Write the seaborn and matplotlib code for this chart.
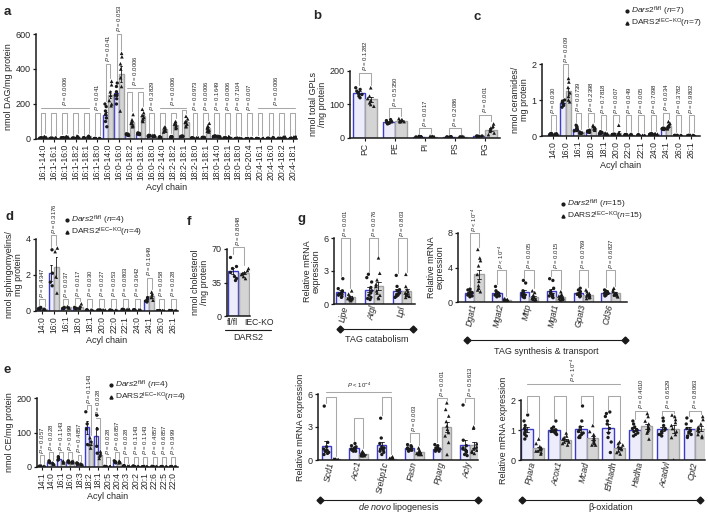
import numpy as np
import pandas as pd
import matplotlib
matplotlib.use('Agg')
import matplotlib.pyplot as plt
import seaborn as sns

sns.set_theme(style='ticks')
plt.rcParams['font.family'] = ['Liberation Sans', 'DejaVu Sans']
plt.rcParams['mathtext.fontset'] = 'custom'
plt.rcParams['mathtext.rm'] = 'Liberation Sans'
plt.rcParams['mathtext.it'] = 'Liberation Sans:italic'
plt.rcParams['mathtext.bf'] = 'Liberation Sans:bold'

GENO = ['fl/fl', 'IEC-KO']

# ---------------- a: DAG ----------------
a_cats = ['16:1-14:0', '16:1-16:1', '16:1-16:0', '16:1-18:2', '16:1-18:1', '16:1-18:0',
          '16:0-14:0', '16:0-16:0', '16:0-18:2', '16:0-18:1', '16:0-18:0', '18:2-14:0',
          '18:2-18:2', '18:2-18:1', '18:2-18:0', '18:1-18:1', '18:0-14:0', '18:0-18:1',
          '18:0-18:0', '18:0-20:4', '20:4-16:1', '20:4-16:0', '20:4-18:2', '20:4-18:1']
a_fl = [[4, 6, 5, 3, 7, 5, 4], [3, 4, 2, 3, 5, 4, 3], [5, 8, 6, 4, 7, 6, 5], [3, 4, 5, 3, 4, 5, 4],
        [4, 6, 5, 5, 7, 4, 6], [2, 3, 2, 3, 2, 3, 2], [185, 160, 140, 120, 100, 70, 200],
        [320, 300, 270, 250, 230, 200, 250], [30, 25, 22, 28, 20, 24, 26], [35, 30, 28, 25, 32, 27, 33],
        [20, 18, 15, 22, 17, 19, 16], [10, 12, 8, 9, 11, 10, 9], [12, 14, 10, 11, 13, 12, 12],
        [15, 14, 16, 13, 17, 15, 14], [5, 4, 6, 5, 4, 6, 5], [8, 7, 9, 8, 10, 7, 9],
        [16, 14, 15, 17, 13, 15, 16], [5, 6, 4, 5, 6, 5, 4], [3, 2, 4, 3, 2, 3, 4],
        [2, 2, 3, 2, 1, 2, 3], [2, 3, 2, 1, 2, 3, 2], [3, 4, 2, 3, 4, 3, 2], [3, 2, 4, 3, 3, 2, 4],
        [3, 4, 3, 2, 3, 4, 3]]
a_ko = [[8, 12, 10, 14, 9, 11, 10], [4, 6, 5, 7, 5, 6, 4], [10, 14, 12, 9, 13, 11, 12],
        [12, 16, 14, 10, 15, 13, 14], [12, 18, 15, 13, 16, 14, 12], [3, 4, 3, 2, 4, 3, 3],
        [330, 310, 270, 250, 220, 200, 190], [490, 470, 430, 400, 350, 300, 160],
        [140, 110, 100, 90, 80, 75, 70], [170, 150, 135, 125, 115, 105, 100],
        [20, 18, 22, 16, 19, 17, 21], [70, 65, 60, 55, 50, 45, 40], [100, 95, 85, 80, 70, 65, 60],
        [130, 115, 100, 95, 85, 75, 70], [6, 5, 7, 4, 6, 5, 6], [90, 75, 65, 60, 50, 45, 40],
        [16, 14, 15, 17, 13, 15, 16], [10, 12, 9, 11, 10, 8, 12], [3, 4, 2, 3, 4, 3, 2],
        [2, 3, 2, 1, 2, 3, 2], [3, 4, 3, 2, 3, 4, 3], [8, 10, 7, 9, 8, 7, 9],
        [10, 12, 9, 11, 10, 8, 12], [10, 13, 9, 11, 10, 9, 12]]
a_br = [150, 150, 150, 150, 150, 150, 430, 600, 270, 270, 150, 150, 150, 165, 150, 150,
        150, 150, 150, 150, 150, 150, 150, 150]
a_p = ['', '', '', '', '', '0.041', '0.041', '0.053', '', '', '0.3829', '', '', '',
       '0.0973', '0.0006', '0.1649', '0.0006', '0.7104', '0.007', '', '', '', '']
a_groups = [(0, 4, 178, '0.0006'), (8, 9, 294, '0.0006'), (11, 13, 178, '0.0006'), (20, 23, 178, '0.0006')]

# ---------------- b: GPLs ----------------
b_cats = ['PC', 'PE', 'PI', 'PS', 'PG']
b_fl = [[150, 145, 140, 135, 130, 125, 120], [55, 52, 50, 48, 46, 44, 42], [4, 3, 5, 3, 4, 2, 3],
        [3, 4, 2, 3, 4, 3, 2], [6, 5, 4, 6, 5, 4, 5]]
b_ko = [[150, 125, 118, 112, 105, 100, 95], [58, 55, 53, 51, 50, 49, 48], [5, 4, 6, 4, 5, 3, 4],
        [4, 5, 3, 4, 5, 4, 3], [42, 35, 30, 25, 20, 15, 10]]
b_br = [195, 90, 30, 30, 70]
b_p = ['0.1282', '0.5350', '0.017', '0.2086', '0.001']

# ---------------- c: ceramides ----------------
c_cats = ['14:0', '16:0', '16:1', '18:0', '18:1', '20:0', '22:0', '22:1', '24:0', '24:1', '26:0', '26:1']
c_fl = [[0.05, 0.06, 0.04, 0.05, 0.07, 0.05, 0.04], [1.0, 0.97, 0.93, 0.9, 0.87, 0.85, 0.8],
        [0.3, 0.26, 0.22, 0.2, 0.17, 0.15, 0.14], [0.16, 0.14, 0.12, 0.11, 0.1, 0.13, 0.12],
        [0.12, 0.1, 0.08, 0.07, 0.06, 0.08, 0.07], [0.05, 0.04, 0.03, 0.05, 0.04, 0.03, 0.04],
        [0.03, 0.04, 0.03, 0.02, 0.03, 0.04, 0.03], [0.02, 0.03, 0.02, 0.01, 0.02, 0.03, 0.02],
        [0.05, 0.06, 0.04, 0.05, 0.06, 0.05, 0.04], [0.22, 0.2, 0.19, 0.21, 0.2, 0.18, 0.2],
        [0.01, 0.01, 0.02, 0.01, 0.01, 0.02, 0.01], [0.01, 0.02, 0.01, 0.01, 0.02, 0.01, 0.01]]
c_ko = [[0.06, 0.07, 0.05, 0.06, 0.08, 0.06, 0.05], [1.6, 1.5, 1.35, 1.2, 1.1, 1.0, 0.95],
        [0.12, 0.1, 0.09, 0.11, 0.1, 0.08, 0.1], [0.3, 0.27, 0.24, 0.22, 0.2, 0.18, 0.16],
        [0.08, 0.06, 0.05, 0.06, 0.07, 0.05, 0.06], [0.3, 0.08, 0.06, 0.05, 0.07, 0.06, 0.05],
        [0.04, 0.05, 0.04, 0.03, 0.04, 0.05, 0.04], [0.01, 0.02, 0.01, 0.01, 0.02, 0.01, 0.01],
        [0.05, 0.06, 0.04, 0.05, 0.06, 0.05, 0.04], [0.4, 0.35, 0.3, 0.27, 0.25, 0.22, 0.2],
        [0.01, 0.02, 0.01, 0.01, 0.02, 0.01, 0.01], [0.01, 0.02, 0.01, 0.01, 0.02, 0.01, 0.01]]
c_br = [0.58, 2.0, 0.63, 0.63, 0.58, 0.58, 0.58, 0.58, 0.58, 0.65, 0.58, 0.58]
c_p = ['0.030', '0.009', '0.0739', '0.2398', '0.7818', '0.007', '0.049', '0.005', '0.7098',
       '0.034', '0.3782', '0.9802']

# ---------------- d: sphingomyelins ----------------
d_cats = c_cats
d_fl = [[0.2, 0.15, 0.12, 0.1], [3.4, 2.1, 1.6, 1.4], [0.2, 0.15, 0.12, 0.13], [0.2, 0.15, 0.12, 0.13],
        [0.06, 0.05, 0.04, 0.05], [0.06, 0.05, 0.04, 0.05], [0.05, 0.04, 0.03, 0.04], [0.1, 0.08, 0.07, 0.08],
        [0.07, 0.06, 0.05, 0.06], [0.75, 0.65, 0.55, 0.5], [0.03, 0.02, 0.02, 0.02], [0.03, 0.02, 0.02, 0.02]]
d_ko = [[0.12, 0.1, 0.08, 0.1], [3.5, 3.3, 1.9, 1.0], [0.25, 0.2, 0.18, 0.17], [0.4, 0.25, 0.2, 0.15],
        [0.06, 0.05, 0.04, 0.05], [0.06, 0.05, 0.04, 0.05], [0.04, 0.03, 0.03, 0.03], [0.1, 0.08, 0.07, 0.08],
        [0.07, 0.06, 0.05, 0.06], [1.05, 0.9, 0.75, 0.6], [0.03, 0.02, 0.02, 0.02], [0.03, 0.02, 0.02, 0.02]]
d_br = [0.65, 4.2, 0.65, 0.72, 0.68, 0.68, 0.68, 0.68, 0.68, 1.85, 0.68, 0.68]
d_p = ['0.4347', '0.3176', '0.037', '0.017', '0.030', '0.027', '0.053', '0.0803', '0.3642',
       '0.1649', '0.058', '0.028']

# ---------------- e: CE ----------------
e_cats = ['14:1', '14:0', '16:1', '16:0', '18:3', '18:2', '18:1', '20:5', '20:4', '20:3', '20:2',
          '20:1', '22:6', '22:5', '22:0']
e_fl = [[3, 2, 2, 1], [18, 16, 14, 12], [30, 26, 22, 20], [18, 16, 14, 12], [12, 10, 9, 8],
        [160, 125, 110, 65], [150, 110, 60, 40], [1, 1, 2, 1], [18, 16, 14, 12], [4, 3, 3, 2],
        [3, 2, 2, 1], [1, 1, 2, 1], [1, 1, 2, 1], [1, 1, 2, 1], [1, 1, 2, 1]]
e_ko = [[2, 1, 1, 1], [12, 10, 9, 8], [18, 15, 13, 12], [18, 16, 14, 12], [10, 8, 7, 7],
        [85, 75, 65, 55], [45, 38, 32, 25], [1, 1, 2, 1], [18, 16, 14, 12], [3, 2, 2, 2],
        [2, 2, 2, 1], [1, 1, 2, 1], [1, 1, 2, 1], [1, 1, 2, 1], [1, 1, 2, 1]]
e_br = [34, 43, 43, 43, 36, 180, 143, 30, 43, 30, 30, 30, 30, 30, 30]
e_p = ['0.057', '0.028', '0.1143', '> 0.999', '0.4857', '0.1143', '0.028', '0.028', '0.6857',
       '0.028', '0.1143', '0.1143', '0.4857', '0.6857', '> 0.999']

# ---------------- f: cholesterol ----------------
f_labels = ['fl/fl', 'IEC-KO']
f_fl = [62, 52, 50, 46, 42, 40, 38]
f_ko = [50, 48, 46, 45, 44, 42, 40]
f_p = '0.8048'

# ---------------- g: gene expression ----------------
gc_cats = ['Lipe', 'Atgl', 'Lpl']
gc_fl = [[2.3, 1.4, 1.2, 1.1, 1.0, 0.9, 0.8, 0.7, 0.6, 0.9],
         [2.7, 2.4, 2.0, 1.5, 1.2, 1.0, 0.8, 0.6, 0.5, 0.4],
         [2.6, 1.6, 1.3, 1.2, 1.0, 0.9, 0.8, 0.7, 0.6, 0.8]]
gc_ko = [[1.2, 0.9, 0.7, 0.6, 0.5, 0.5, 0.4, 0.4, 0.3, 0.5],
         [4.2, 2.8, 2.2, 1.8, 1.6, 1.2, 1.0, 0.8, 0.6, 0.5],
         [2.7, 1.6, 1.3, 1.1, 1.0, 0.9, 0.8, 0.7, 0.6, 0.8]]
gc_br = [6.0, 6.0, 6.0]
gc_p = ['0.001', '0.076', '0.803']

gs_cats = ['Dgat1', 'Mgat2', 'Mttp', 'Mgat1', 'Gpat3', 'Cd36']
gs_fl = [[1.5, 1.4, 1.2, 1.1, 1.0, 0.9, 0.8, 0.8, 0.7, 0.6],
         [1.8, 1.3, 1.1, 1.0, 1.0, 0.9, 0.9, 0.8, 0.7, 0.6],
         [2.5, 2.2, 1.3, 1.0, 0.9, 0.8, 0.8, 0.7, 0.6, 0.5],
         [2.7, 2.5, 1.6, 1.2, 1.0, 0.9, 0.8, 0.7, 0.6, 0.5],
         [1.6, 1.4, 1.2, 1.0, 0.9, 0.9, 0.8, 0.8, 0.7, 0.6],
         [1.4, 1.3, 1.2, 1.1, 1.0, 1.0, 0.9, 0.8, 0.8, 0.7]]
gs_ko = [[6.1, 5.1, 4.8, 4.2, 3.2, 2.4, 1.9, 1.6, 1.4, 1.2],
         [0.4, 0.3, 0.3, 0.2, 0.2, 0.2, 0.2, 0.1, 0.1, 0.1],
         [1.3, 1.1, 0.8, 0.6, 0.5, 0.5, 0.4, 0.3, 0.3, 0.2],
         [1.2, 0.9, 0.7, 0.6, 0.5, 0.4, 0.4, 0.3, 0.3, 0.2],
         [1.4, 1.2, 1.0, 0.9, 0.8, 0.7, 0.6, 0.6, 0.5, 0.4],
         [1.6, 1.4, 1.2, 1.0, 1.0, 0.9, 0.9, 0.8, 0.7, 0.6]]
gs_br = [8.0, 3.7, 3.7, 3.7, 3.7, 3.7]
gs_p = ['< 10^{-4}', '< 10^{-4}', '0.005', '0.015', '0.0769', '0.6827']

gd_cats = ['Scd1', 'Acc1', 'Srebp1c', 'Fasn', 'Pparg', 'Acly']
gd_fl = [[4.9, 1.6, 1.2, 1.0, 0.9, 0.8, 0.8, 0.7, 0.6, 0.5],
         [1.5, 1.3, 1.2, 1.1, 1.0, 1.0, 0.9, 0.9, 0.8, 0.8],
         [3.8, 2.0, 1.5, 1.2, 1.1, 1.0, 0.9, 0.8, 0.7, 0.5],
         [1.4, 1.3, 1.2, 1.1, 1.0, 1.0, 0.9, 0.9, 0.9, 0.8],
         [1.4, 1.3, 1.1, 1.1, 1.0, 1.0, 0.9, 0.9, 0.8, 0.8],
         [5.0, 1.8, 1.3, 1.1, 1.0, 0.9, 0.8, 0.7, 0.5, 0.4]]
gd_ko = [[0.1, 0.08, 0.06, 0.05, 0.05, 0.04, 0.04, 0.03, 0.03, 0.02],
         [0.8, 0.7, 0.6, 0.6, 0.5, 0.5, 0.5, 0.4, 0.4, 0.4],
         [0.3, 0.2, 0.15, 0.1, 0.1, 0.08, 0.07, 0.05, 0.05, 0.04],
         [1.1, 0.9, 0.8, 0.7, 0.7, 0.6, 0.6, 0.6, 0.5, 0.5],
         [5.2, 4.6, 4.0, 3.5, 3.1, 2.8, 2.5, 2.2, 1.6, 0.5],
         [3.0, 2.9, 1.5, 1.2, 1.1, 1.0, 0.9, 0.8, 0.7, 0.6]]
gd_br = [5.75, 3.8, 5.75, 2.45, 5.6, 5.6]
gd_p = ['', '', '', '0.003', '0.001', '0.5613']
gd_groups = [(0, 2, 6.2, '< 10^{-4}')]

gb_cats = ['Ppara', 'Acox1', 'Mcad', 'Ehhadh', 'Hadha', 'Acadvl', 'Cpt2']
gb_fl = [[1.5, 1.3, 1.15, 1.05, 1.0, 0.95, 0.9, 0.85, 0.8, 0.7],
         [1.3, 1.1, 1.05, 1.0, 1.0, 0.95, 0.95, 0.9, 0.9, 0.85],
         [1.8, 1.3, 1.1, 1.0, 0.95, 0.9, 0.85, 0.8, 0.75, 0.75],
         [1.6, 1.55, 1.45, 1.3, 1.2, 1.05, 0.9, 0.75, 0.6, 0.25],
         [1.3, 1.2, 1.1, 1.05, 1.0, 1.0, 0.95, 0.9, 0.85, 0.8],
         [1.4, 1.3, 1.15, 1.05, 1.0, 0.95, 0.9, 0.85, 0.8, 0.85],
         [1.4, 1.3, 1.2, 1.05, 1.0, 0.95, 0.9, 0.85, 0.8, 0.75]]
gb_ko = [[0.7, 0.55, 0.45, 0.4, 0.35, 0.35, 0.3, 0.3, 0.25, 0.2],
         [0.9, 0.8, 0.75, 0.7, 0.7, 0.65, 0.6, 0.6, 0.55, 0.5],
         [1.15, 0.95, 0.85, 0.75, 0.7, 0.65, 0.6, 0.55, 0.5, 0.5],
         [0.6, 0.55, 0.5, 0.45, 0.4, 0.4, 0.35, 0.3, 0.25, 0.2],
         [1.55, 1.45, 1.3, 1.2, 1.1, 1.05, 1.0, 0.95, 0.9, 0.7],
         [1.5, 1.45, 1.35, 1.25, 1.15, 1.05, 0.95, 0.85, 0.75, 0.0],
         [1.45, 1.35, 1.2, 1.1, 1.05, 1.0, 0.95, 0.85, 0.8, 0.75]]
gb_br = [2.15, 2.15, 2.15, 2.15, 1.65, 1.65, 1.65]
gb_p = ['', '', '', '', '0.4610', '0.6529', '0.8063']
gb_groups = [(0, 3, 2.55, '< 10^{-4}')]

# ================= drawing =================
W, H = 708, 514
fig = plt.figure(figsize=(W / 100, H / 100), dpi=100)
fig.patch.set_facecolor('white')
np.random.seed(7)

FL_FACE, FL_EDGE = '#ececfa', '#3b3bcc'
KO_FACE, KO_EDGE = '#d4d4d4', '#a4a4a4'
BR = '#a8a8a8'
PFS = 4.3
FS = 6.5


def add_ax(x0, yt, x1, yb):
    return fig.add_axes([x0 / W, 1 - yb / H, (x1 - x0) / W, (yb - yt) / H])


def ptxt(p):
    if p.startswith('<'):
        return r'$\it{P}$ < 10$^{-4}$'
    if p.startswith('>'):
        return r'$\it{P}$ > ' + p[1:].strip()
    return r'$\it{P}$ = ' + p


def long_df(cats, fl, ko):
    rows = []
    for c, a, b in zip(cats, fl, ko):
        rows += [(c, GENO[0], v) for v in a]
        rows += [(c, GENO[1], v) for v in b]
    return pd.DataFrame(rows, columns=['cat', 'geno', 'val'])


def style(ax, ylim, yticks, xlim, gene=False):
    ax.set_ylim(*ylim)
    ax.set_yticks(yticks)
    ax.set_xlim(*xlim)
    sns.despine(ax=ax)
    for s in ['left', 'bottom']:
        ax.spines[s].set_linewidth(1.1)
        ax.spines[s].set_color('k')
    ax.tick_params(axis='y', length=2.5, width=0.9, labelsize=FS, pad=1.5, color='k')
    ax.tick_params(axis='x', length=0 if gene else 2, width=0.8, labelsize=6.2, pad=1.5, color='k')
    ax.set_facecolor('none')


def draw(rect, cats, fl, ko, ylim, yticks, xlim, width, ylabel, xlabel=None, gene=False):
    ax = add_ax(*rect)
    df = long_df(cats, fl, ko)
    sns.barplot(data=df, x='cat', y='val', hue='geno', order=cats, hue_order=GENO,
                palette=[FL_FACE, KO_FACE], saturation=1, errorbar='se', capsize=0.3,
                err_kws={'linewidth': 0.6, 'color': 'k'}, width=width, linewidth=1.0,
                legend=False, ax=ax)
    for p in ax.containers[0]:
        p.set_edgecolor(FL_EDGE)
    for p in ax.containers[1]:
        p.set_edgecolor(KO_EDGE)
    n0 = len(ax.collections)
    for g, m, s in [(GENO[0], 'o', 2.4), (GENO[1], '^', 2.6)]:
        sns.stripplot(data=df[df.geno == g], x='cat', y='val', hue='geno', order=cats,
                      hue_order=GENO, palette=['k', 'k'], dodge=True, jitter=0.22, size=s,
                      marker=m, linewidth=0, legend=False, ax=ax, zorder=4)
    for coll in ax.collections[n0:]:
        off = np.asarray(coll.get_offsets()).copy()
        if len(off):
            c = np.round(off[:, 0])
            off[:, 0] = c + (off[:, 0] - c) * width / 0.8
            coll.set_offsets(off)
    style(ax, ylim, yticks, xlim, gene)
    if gene:
        ax.set_xticks(range(len(cats)), cats, rotation=78, ha='right', va='center',
                      rotation_mode='anchor', fontstyle='italic')
    else:
        ax.set_xticks(range(len(cats)), cats, rotation=90)
    ax.set_ylabel(ylabel, fontsize=FS, labelpad=2, linespacing=1.0)
    ax.set_xlabel(xlabel if xlabel else '', fontsize=FS, labelpad=2)
    return ax


def brackets(ax, fl, ko, hs, ps, width, pad):
    d = width / 4
    for i, (a, b, h, p) in enumerate(zip(fl, ko, hs, ps)):
        ya = min(max(a) + pad, h)
        yb = min(max(b) + pad, h)
        ax.plot([i - d, i - d, i + d, i + d], [ya, h, h, yb], color=BR, lw=0.75,
                clip_on=False, zorder=5)
        if p:
            ax.text(i, h + pad * 0.5, ptxt(p), rotation=90, ha='center', va='bottom',
                    fontsize=PFS, clip_on=False)


def groups(ax, grp, width, pad, vertical=True):
    d = width / 4
    for i0, i1, h, p in grp:
        ax.plot([i0 - d, i1 + d], [h, h], color=BR, lw=0.75, clip_on=False, zorder=5)
        ax.text((i0 + i1) / 2, h + pad * 0.5, ptxt(p), rotation=90 if vertical else 0,
                ha='center', va='bottom', fontsize=PFS, clip_on=False)


# a
ax = draw((36, 34, 297, 139), a_cats, a_fl, a_ko, (0, 600), [0, 200, 400, 600], (-0.64, 23.4),
          0.85, 'nmol DAG/mg protein', 'Acyl chain')
brackets(ax, a_fl, a_ko, a_br, a_p, 0.85, 18)
groups(ax, a_groups, 0.85, 18)

# b
ax = draw((350, 71, 500, 138), b_cats, b_fl, b_ko, (0, 200), [0, 100, 200], (-0.5, 4.5),
          0.8, 'nmol total GPLs\n/mg protein')
brackets(ax, b_fl, b_ko, b_br, b_p, 0.8, 8)

# c
ax = draw((542, 64, 700, 136), c_cats, c_fl, c_ko, (0, 2), [0, 1, 2], (-0.9, 11.7),
          0.85, 'nmol ceramides/\nmg protein', 'Acyl chain')
brackets(ax, c_fl, c_ko, c_br, c_p, 0.85, 0.08)

# d
ax = draw((36, 239, 178, 311), d_cats, d_fl, d_ko, (0, 4), [0, 2, 4], (-0.5, 11.4),
          0.85, 'nmol sphingomyelins/\nmg protein', 'Acyl chain')
brackets(ax, d_fl, d_ko, d_br, d_p, 0.85, 0.15)

# e
ax = draw((37, 398, 178, 467), e_cats, e_fl, e_ko, (0, 200), [0, 100, 200], (-0.53, 14.5),
          0.85, 'nmol CE/mg protein', 'Acyl chain')
brackets(ax, e_fl, e_ko, e_br, e_p, 0.85, 8)

# f
ax = add_ax(227, 249, 250, 316)
fdf = pd.DataFrame({'geno': [GENO[0]] * len(f_fl) + [GENO[1]] * len(f_ko), 'val': f_fl + f_ko})
sns.barplot(data=fdf, x='geno', y='val', hue='geno', order=GENO, hue_order=GENO,
            palette=[FL_FACE, KO_FACE], saturation=1, errorbar='se', capsize=0.3,
            err_kws={'linewidth': 0.6, 'color': 'k'}, width=0.9, linewidth=1.0, legend=False, ax=ax)
ax.containers[0][0].set_edgecolor(FL_EDGE)
ax.containers[1][0].set_edgecolor(KO_EDGE)
for g, m, s in [(GENO[0], 'o', 2.4), (GENO[1], '^', 2.6)]:
    sns.stripplot(data=fdf[fdf.geno == g], x='geno', y='val', order=GENO, color='k',
                  jitter=0.3, size=s, marker=m, linewidth=0, ax=ax, zorder=4)
style(ax, (0, 70), [0, 35, 70], (-0.5, 1.5), gene=True)
ax.set_xticks([0, 1], f_labels)
labs = ax.get_xticklabels()
labs[1].set_horizontalalignment('left')
ax.set_ylabel('nmol cholesterol\n/mg protein', fontsize=FS, labelpad=2, linespacing=1.0)
ax.set_xlabel('')
ax.plot([0, 0, 1, 1], [max(f_fl) + 3, 72, 72, max(f_ko) + 3], color=BR, lw=0.75, clip_on=False)
ax.text(0.5, 73.5, ptxt(f_p), rotation=90, ha='center', va='bottom', fontsize=PFS, clip_on=False)

# g panels
ax = draw((334, 238, 415, 304), gc_cats, gc_fl, gc_ko, (0, 6), [0, 3, 6], (-0.4, 2.45),
          0.65, 'Relative mRNA\nexpression', gene=True)
brackets(ax, gc_fl, gc_ko, gc_br, gc_p, 0.65, 0.25)

ax = draw((458, 233, 627, 302), gs_cats, gs_fl, gs_ko, (0, 8), [0, 4, 8], (-0.6, 5.6),
          0.68, 'Relative mRNA\nexpression', gene=True)
brackets(ax, gs_fl, gs_ko, gs_br, gs_p, 0.68, 0.3)

ax = draw((318, 394, 478, 460), gd_cats, gd_fl, gd_ko, (0, 6), [0, 3, 6], (-0.47, 5.3),
          0.68, 'Relative mRNA expression', gene=True)
brackets(ax, gd_fl, gd_ko, gd_br, gd_p, 0.68, 0.25)
groups(ax, gd_groups, 0.68, 0.25, vertical=False)

ax = draw((521, 400, 705, 460), gb_cats, gb_fl, gb_ko, (0, 2), [0, 1, 2], (-0.44, 6.37),
          0.85, 'Relative mRNA expression', gene=True)
brackets(ax, gb_fl, gb_ko, gb_br, gb_p, 0.85, 0.08)
groups(ax, gb_groups, 0.85, 0.08, vertical=True)

# ---------------- overlay (letters, legends, pathway lines) ----------------
ov = fig.add_axes([0, 0, 1, 1], zorder=10)
ov.set_xlim(0, W)
ov.set_ylim(H, 0)
ov.axis('off')
ov.patch.set_visible(False)

for L, x, y in [('a', 4, 12), ('b', 313, 16), ('c', 473, 17), ('d', 5, 217),
                ('f', 187, 222), ('g', 297, 219), ('e', 4, 370)]:
    ov.text(x, y, L, fontsize=9.5, fontweight='bold', va='center', ha='left')


def legend(x, y, n, dy=12):
    ov.plot([x], [y], 'o', ms=2.0, color='k')
    ov.plot([x], [y + dy], '^', ms=2.2, color='k')
    ov.text(x + 4, y, r'$\it{Dars2}^{\rm fl/fl}$ ($\it{n}$=%d)' % n, fontsize=6.0, va='center')
    ov.text(x + 4, y + dy, r'DARS2$^{\rm IEC\mathrm{-}KO}$($\it{n}$=%d)' % n, fontsize=6.0,
            va='center')


legend(627, 11, 7)
legend(67, 220, 4)
legend(111, 385, 4)
legend(563, 204, 15)


def pathway(x0, x1, y, label, ty):
    ov.plot([x0, x1], [y, y], color='k', lw=0.8, marker='D', ms=3.5)
    ov.text((x0 + x1) / 2, ty, label, fontsize=FS, ha='center', va='center')


pathway(340, 413, 329, 'TAG catabolism', 340)
pathway(467, 625, 340, 'TAG synthesis & transport', 352)
pathway(320, 478, 500, r'$\it{de\ novo}$ lipogenesis', 508)
pathway(522, 700, 500, 'β-oxidation', 508)

# DARS2 grouping under f
ov.plot([225, 271], [330, 330], color='k', lw=0.8)
ov.text(248, 338, 'DARS2', fontsize=FS, ha='center', va='center')

fig.savefig('out.png', dpi=100, facecolor='white')
